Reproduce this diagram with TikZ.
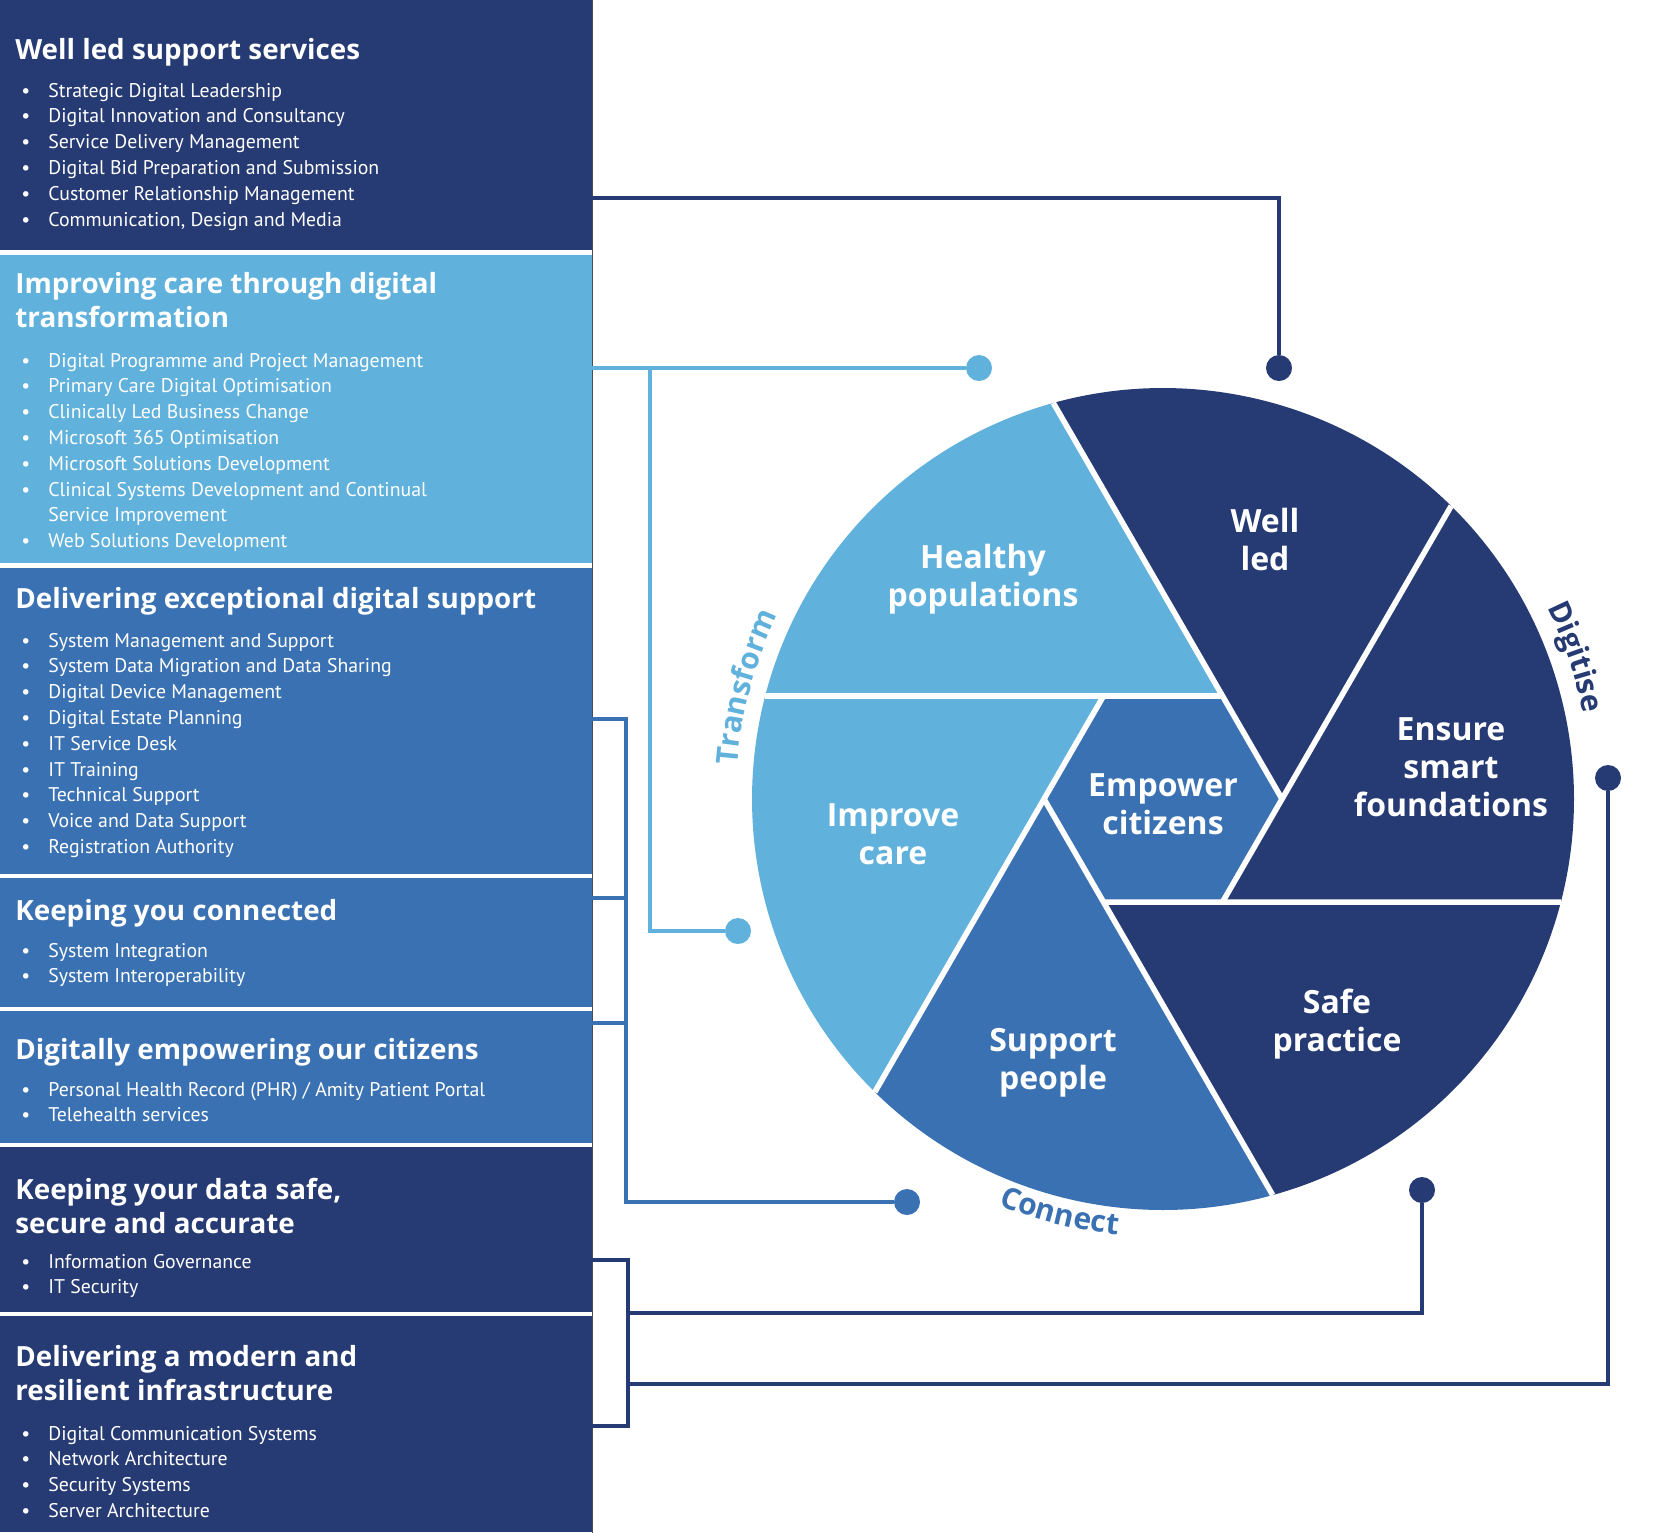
\documentclass[tikz,border=0pt]{standalone}
\usepackage{fontspec}
\setmainfont{PT Sans}
\newfontfamily\headfamily{Open Sans}
\usepackage{tikz}
\usetikzlibrary{positioning,decorations.text}
\definecolor{navyblue}{HTML}{263A73}
\definecolor{skyblue}{HTML}{61B1DD}
\definecolor{midblue}{HTML}{3A71B2}
\newcommand*{\hdfont}{\headfamily\fontsize{13.9}{17.3}\selectfont\bfseries}
\newcommand*{\lsfont}{\fontsize{9.9}{12.9}\selectfont}
\newcommand*{\bladefont}{\headfamily\fontsize{16}{19}\selectfont\bfseries}
\newcommand*{\ringfont}{\headfamily\fontsize{15}{18}\selectfont\bfseries}
\newcommand*{\itm}[1]{\par\hangindent=13.5pt\hangafter=1\noindent\makebox[13.5pt][l]{\textbullet}#1}
\newcommand*{\hd}[1]{\parbox[t]{290pt}{\raggedright\hdfont #1}}
\newcommand*{\lst}[1]{\parbox[t]{285pt}{\raggedright\lsfont #1}}

\begin{document}
\begin{tikzpicture}[x=0.5pt,y=-0.5pt,
  panel/.style={rectangle,inner sep=0pt,minimum width=296pt,anchor=north west},
  txt/.style={inner sep=0pt,anchor=base west,text=white},
  blade/.style={text=white,align=center,font=\bladefont},
  dot/.style={circle,fill=#1,inner sep=0pt,minimum size=13pt},
  link/.style={draw=#1,line width=1.8pt},
  gap/.style={draw=white,line width=2.8pt}]
\useasboundingbox (0,0) rectangle (1668,1532);
% Left hand column of service panels
\node[panel,fill=navyblue,minimum height=125pt] (p1) at (0,0) {};
\node[panel,fill=skyblue,minimum height=154pt] (p2) at (0,255) {};
\node[panel,fill=midblue,minimum height=153pt] (p3) at (0,568) {};
\node[panel,fill=midblue,minimum height=64.5pt] (p4) at (0,878) {};
\node[panel,fill=midblue,minimum height=66pt] (p5) at (0,1011) {};
\node[panel,fill=navyblue,minimum height=82.5pt] (p6) at (0,1147) {};
\node[panel,fill=navyblue,minimum height=108pt] (p7) at (0,1316) {};
\draw[gray!60!black,line width=0.5pt] (p1.north east) -- (p7.south east);
% Panel headings and bullet lists
\node[txt] (h1) at (15,59) {\hd{Well led support services}};
\node[txt] (l1) at (21,97) {\lst{\itm{Strategic Digital Leadership}\itm{Digital Innovation and Consultancy}\itm{Service Delivery Management}\itm{Digital Bid Preparation and Submission}\itm{Customer Relationship Management}\itm{Communication, Design and Media}}};
\node[txt] (h2) at (15,293) {\hd{Improving care through digital\\transformation}};
\node[txt] (l2) at (21,367) {\lst{\itm{Digital Programme and Project Management}\itm{Primary Care Digital Optimisation}\itm{Clinically Led Business Change}\itm{Microsoft 365 Optimisation}\itm{Microsoft Solutions Development}\itm{Clinical Systems Development and Continual\newline Service Improvement}\itm{Web Solutions Development}}};
\node[txt] (h3) at (15,608) {\hd{Delivering exceptional digital support}};
\node[txt] (l3) at (21,647) {\lst{\itm{System Management and Support}\itm{System Data Migration and Data Sharing}\itm{Digital Device Management}\itm{Digital Estate Planning}\itm{IT Service Desk}\itm{IT Training}\itm{Technical Support}\itm{Voice and Data Support}\itm{Registration Authority}}};
\node[txt] (h4) at (15,920) {\hd{Keeping you connected}};
\node[txt] (l4) at (21,957) {\lst{\itm{System Integration}\itm{System Interoperability}}};
\node[txt] (h5) at (15,1059) {\hd{Digitally empowering our citizens}};
\node[txt] (l5) at (21,1096) {\lst{\itm{Personal Health Record (PHR) / Amity Patient Portal}\itm{Telehealth services}}};
\node[txt] (h6) at (15,1199) {\hd{Keeping your data safe,\\secure and accurate}};
\node[txt] (l6) at (21,1268) {\lst{\itm{Information Governance}\itm{IT Security}}};
\node[txt] (h7) at (15,1366) {\hd{Delivering a modern and\\resilient infrastructure}};
\node[txt] (l7) at (21,1440) {\lst{\itm{Digital Communication Systems}\itm{Network Architecture}\itm{Security Systems}\itm{Server Architecture}}};
% Shutter wheel: hexagon of side 119 inside a circle of radius 411
\begin{scope}[shift={(1163,799)}]
\coordinate (hR) at (0:119);
\coordinate (hD) at (60:119);
\coordinate (hE) at (120:119);
\coordinate (hL) at (180:119);
\coordinate (hA) at (240:119);
\coordinate (hB) at (300:119);
% Where each extended hexagon side meets the circle
\coordinate (c1) at (194.52:411);
\coordinate (c2) at (254.52:411);
\coordinate (c3) at (314.52:411);
\coordinate (c4) at (14.52:411);
\coordinate (c5) at (74.52:411);
\coordinate (c6) at (134.52:411);
\fill[skyblue] (hB) -- (c1) arc[start angle=194.52,end angle=254.52,radius=411] -- cycle;
\fill[navyblue] (hR) -- (c2) arc[start angle=254.52,end angle=314.52,radius=411] -- cycle;
\fill[navyblue] (hD) -- (c3) arc[start angle=314.52,end angle=374.52,radius=411] -- cycle;
\fill[navyblue] (hE) -- (c4) arc[start angle=14.52,end angle=74.52,radius=411] -- cycle;
\fill[midblue] (hL) -- (c5) arc[start angle=74.52,end angle=134.52,radius=411] -- cycle;
\fill[skyblue] (hA) -- (c6) arc[start angle=134.52,end angle=194.52,radius=411] -- cycle;
\fill[midblue] (hA) -- (hB) -- (hR) -- (hD) -- (hE) -- (hL) -- cycle;
% White gaps between the blades
\draw[gap] (c1) -- (hB);
\draw[gap] (c2) -- (hR);
\draw[gap] (c3) -- (hD);
\draw[gap] (c4) -- (hE);
\draw[gap] (c5) -- (hL);
\draw[gap] (c6) -- (hA);
% Curved words round the rim
\path[decorate,decoration={text along path,text align=center,text color=skyblue,text={|\ringfont|Transform}}] (175:427) arc[start angle=175,end angle=215,radius=427];
\path[decorate,decoration={text along path,text align=center,text color=navyblue,text={|\ringfont|Digitise}}] (320:429) arc[start angle=320,end angle=362,radius=429];
\path[decorate,decoration={text along path,text align=center,text color=midblue,text={|\ringfont|Connect}}] (124:438) arc[start angle=124,end angle=84,radius=438];
\end{scope}
% Blade labels
\node[blade] (tHealthy) at (983,579) {Healthy\\populations};
\node[blade] (tWell) at (1265,539) {Well\\led};
\node[blade] (tEnsure) at (1451,767) {Ensure\\smart\\foundations};
\node[blade] (tEmpower) at (1163,804) {Empower\\citizens};
\node[blade] (tImprove) at (893,834) {Improve\\care};
\node[blade] (tSupport) at (1053,1063) {Support\\people};
\node[blade] (tSafe) at (1337,1024) {Safe\\practice};
% Connector end points on the panel edge
\coordinate (s1) at (592,198);
\coordinate (s2) at (592,368);
\coordinate (k2) at (650,368);
\coordinate (s3) at (592,719);
\coordinate (s4) at (592,898);
\coordinate (s5) at (592,1023);
\coordinate (k3) at (626,1202);
\coordinate (s6) at (592,1260);
\coordinate (s7) at (592,1426);
\coordinate (k6) at (628,1313);
\coordinate (k7) at (628,1384);
% Dots at the wheel
\node[dot=navyblue] (dWell) at (1279,368) {};
\node[dot=skyblue] (dHealthy) at (979,368) {};
\node[dot=skyblue] (dImprove) at (738,931) {};
\node[dot=midblue] (dSupport) at (907,1202) {};
\node[dot=navyblue] (dSafe) at (1422,1190) {};
\node[dot=navyblue] (dEnsure) at (1608,778) {};
% Connectors
\draw[link=navyblue] (s1) -| (dWell);
\draw[link=skyblue] (s2) -- (dHealthy);
\draw[link=skyblue] (k2) |- (dImprove);
\draw[link=midblue] (s3) -| (k3) -- (dSupport);
\draw[link=midblue] (s4) -- (s4 -| k3);
\draw[link=midblue] (s5) -- (s5 -| k3);
\draw[link=navyblue] (s6) -| (s7 -| k6) -- (s7);
\draw[link=navyblue] (k6) -| (dSafe);
\draw[link=navyblue] (k7) -| (dEnsure);
\end{tikzpicture}
\end{document}
